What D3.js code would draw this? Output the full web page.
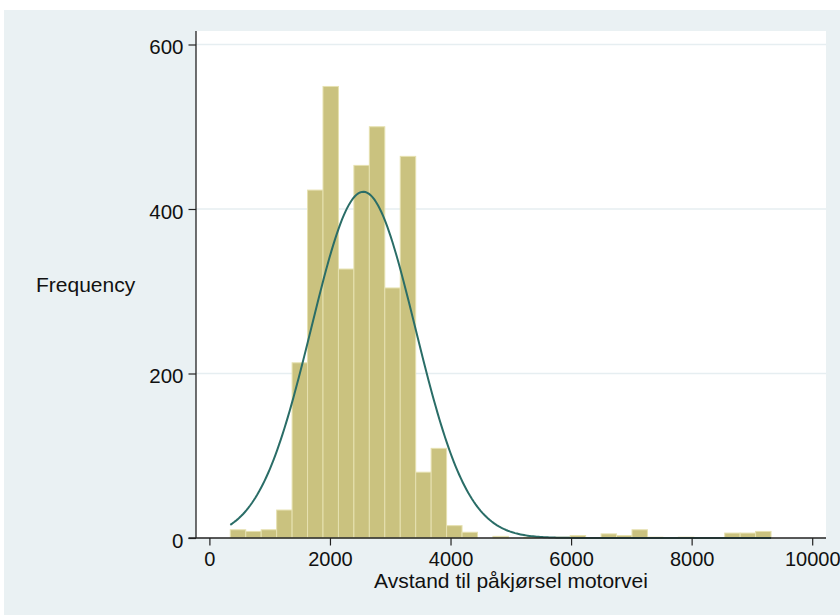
<!DOCTYPE html>
<html>
<head>
<meta charset="utf-8">
<script src="https://cdn.jsdelivr.net/npm/d3@7"></script>
<style>
  html, body { margin: 0; padding: 0; background: #ffffff; }
  svg { display: block; }
  text { font-family: "Liberation Sans", Arial, Helvetica, sans-serif; fill: #111; }
</style>
</head>
<body>
<svg id="chart" width="840" height="615"></svg>
<script>
// Histogram of distance to motorway on-ramp, 35 equal-width bins
const binStart = 346.7;
const binWidth = 256.3;
const counts = [
  10, 8, 10, 34, 213, 423, 549, 327, 453, 500,
  304, 464, 80, 109, 15, 7, 0, 2, 0, 1,
  0, 1, 3, 0, 5, 3, 10, 1, 0, 1,
  0, 0, 6, 6, 8
];
const xTicks = [0, 2000, 4000, 6000, 8000, 10000];
const yTicks = [0, 200, 400, 600];
const gridTicks = [200, 400, 600];
// Fitted normal density overlay (scaled to frequency)
const normalMean = 2553;
const normalSD = 863;

const xTitle = "Avstand til påkjørsel motorvei";
const yTitle = "Frequency";

const svg = d3.select("#chart");

// Layout
const plot = { left: 196, right: 826, top: 31, bottom: 538 };

// Outer graph region
svg.append("rect")
  .attr("x", 4).attr("y", 10)
  .attr("width", 836).attr("height", 605)
  .attr("fill", "#eaf1f3");

// Plot region
svg.append("rect")
  .attr("x", plot.left).attr("y", plot.top)
  .attr("width", plot.right - plot.left).attr("height", plot.bottom - plot.top)
  .attr("fill", "#ffffff");

const x = d3.scaleLinear().domain([0, 10000]).range([209.4, 812.2]);
const y = d3.scaleLinear().domain([0, 600]).range([538, 44.5]);

// Grid lines
svg.append("g").selectAll("line")
  .data(gridTicks)
  .join("line")
  .attr("x1", plot.left).attr("x2", plot.right)
  .attr("y1", d => y(d)).attr("y2", d => y(d))
  .attr("stroke", "#e6eef1")
  .attr("stroke-width", 1.5);

// Bars
const bins = counts.map((c, i) => ({
  x0: binStart + i * binWidth,
  x1: binStart + (i + 1) * binWidth,
  count: c
}));

svg.append("g").selectAll("rect")
  .data(bins.filter(b => b.count > 0))
  .join("rect")
  .attr("x", d => x(d.x0))
  .attr("width", d => x(d.x1) - x(d.x0))
  .attr("y", d => y(d.count))
  .attr("height", d => y(0) - y(d.count))
  .attr("fill", "#cac27f")
  .attr("stroke", "#e6e1b0")
  .attr("stroke-width", 1);

// Normal curve over the data range
const total = d3.sum(counts);
const xMin = binStart;
const xMax = binStart + counts.length * binWidth;
const scaleFactor = total * binWidth / (normalSD * Math.sqrt(2 * Math.PI));
const curvePts = d3.range(0, 301).map(i => {
  const v = xMin + (xMax - xMin) * i / 300;
  const z = (v - normalMean) / normalSD;
  return [v, scaleFactor * Math.exp(-0.5 * z * z)];
});

svg.append("path")
  .datum(curvePts)
  .attr("fill", "none")
  .attr("stroke", "#2a6d67")
  .attr("stroke-width", 2)
  .attr("d", d3.line().x(d => x(d[0])).y(d => y(d[1])));

// Y axis
const yAxis = d3.axisLeft(y)
  .tickValues(yTicks)
  .tickSize(7.5)
  .tickPadding(5)
  .tickFormat(d3.format("d"));

const yg = svg.append("g")
  .attr("transform", `translate(${plot.left},0)`)
  .call(yAxis);
yg.select(".domain").remove();
yg.append("line")
  .attr("x1", 0).attr("x2", 0)
  .attr("y1", plot.top).attr("y2", plot.bottom)
  .attr("stroke", "#222").attr("stroke-width", 1.3);
yg.selectAll(".tick line").attr("stroke", "#222").attr("stroke-width", 1.2);
yg.selectAll(".tick text")
  .attr("font-size", 20.5)
  .attr("dy", "0.45em")
  .style("font-family", "'Liberation Sans', Arial, sans-serif")
  .attr("fill", "#111");

// X axis
const xAxis = d3.axisBottom(x)
  .tickValues(xTicks)
  .tickSize(7.5)
  .tickPadding(6)
  .tickFormat(d3.format("d"));

const xg = svg.append("g")
  .attr("transform", `translate(0,${plot.bottom})`)
  .call(xAxis);
xg.select(".domain").remove();
xg.append("line")
  .attr("x1", plot.left - 7.5).attr("x2", plot.right)
  .attr("y1", 0).attr("y2", 0)
  .attr("stroke", "#222").attr("stroke-width", 1.3);
xg.selectAll(".tick line").attr("stroke", "#222").attr("stroke-width", 1.2);
xg.selectAll(".tick text")
  .attr("font-size", 20)
  .attr("dy", "0.74em")
  .style("font-family", "'Liberation Sans', Arial, sans-serif")
  .attr("fill", "#111");

// Axis titles
svg.append("text")
  .attr("x", (plot.left + plot.right) / 2)
  .attr("y", 588)
  .attr("text-anchor", "middle")
  .attr("font-size", 21)
  .text(xTitle);

svg.append("text")
  .attr("x", 36)
  .attr("y", 291.5)
  .attr("font-size", 21)
  .text(yTitle);
</script>
</body>
</html>
